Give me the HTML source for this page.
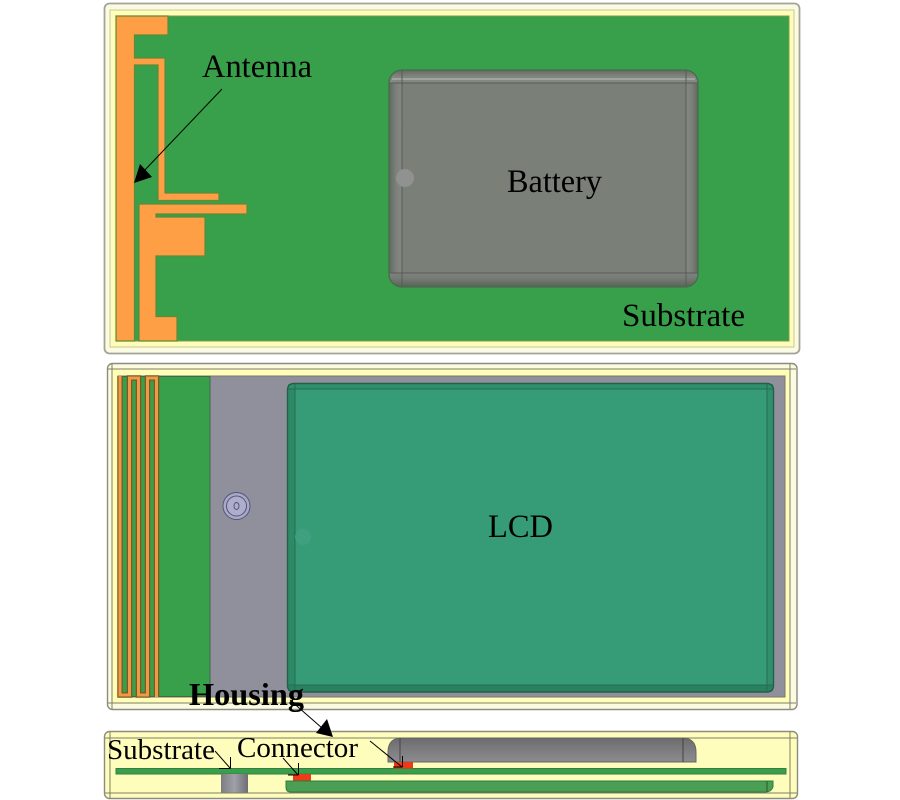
<!DOCTYPE html>
<html><head><meta charset="utf-8"><style>
html,body{margin:0;padding:0;background:#fff;width:900px;height:800px;overflow:hidden}
svg{display:block}
text{font-family:"Liberation Serif",serif;fill:#000}
</style></head><body>
<svg width="900" height="800" viewBox="0 0 900 800" xmlns="http://www.w3.org/2000/svg">
<defs>
<linearGradient id="pg" x1="0" y1="0" x2="1" y2="0"><stop offset="0" stop-color="#7c7c82"/><stop offset=".5" stop-color="#a0a0aa"/><stop offset="1" stop-color="#6e6e74"/></linearGradient>
<linearGradient id="bl" x1="0" y1="0" x2="1" y2="0"><stop offset="0" stop-color="#5d6a5d"/><stop offset=".5" stop-color="#7b7f79"/><stop offset="1" stop-color="#868985"/></linearGradient>
<linearGradient id="br" x1="1" y1="0" x2="0" y2="0"><stop offset="0" stop-color="#5d6a5d"/><stop offset=".5" stop-color="#7b7f79"/><stop offset="1" stop-color="#858884"/></linearGradient>
<linearGradient id="bt" x1="0" y1="0" x2="0" y2="1"><stop offset="0" stop-color="#5f6d5f"/><stop offset=".5" stop-color="#828580"/><stop offset="1" stop-color="#858884"/></linearGradient>
<linearGradient id="bb" x1="0" y1="1" x2="0" y2="0"><stop offset="0" stop-color="#566456"/><stop offset=".6" stop-color="#757a74"/><stop offset="1" stop-color="#7f837e"/></linearGradient>
<linearGradient id="bs" x1="0" y1="0" x2="0" y2="1"><stop offset="0" stop-color="#6c6c6e"/><stop offset=".5" stop-color="#7d7d80"/><stop offset="1" stop-color="#8c8c90"/></linearGradient>
<clipPath id="bc"><rect x="389" y="70" width="309" height="217" rx="13"/></clipPath>
</defs>

<!-- Panel 1 -->
<rect x="104.500" y="3.500" width="695" height="350" rx="5" fill="#fbfbe2" stroke="#a3a396" stroke-width="1.800"/>
<rect x="110" y="10" width="684" height="337" fill="#fffdb8" stroke="#c9c7a0" stroke-width="1"/>
<rect x="116" y="16" width="673" height="325" fill="#38a04a" stroke="#7f9a4a" stroke-width="1"/>
<g fill="#ff9f45" stroke="#5f8a38" stroke-width="1.200">
<path d="M116 16H168V35H134.500V58H165V193H219V200.500H158V65H134.500V341H116Z"/>
<path d="M139 204H247V214H156V217H205V256H156V316.500H177V341H139Z"/>
</g>
<rect x="389" y="70" width="309" height="217" rx="13" fill="#7a7f77"/>
<g clip-path="url(#bc)">
<rect x="389" y="70" width="13" height="217" fill="url(#bl)"/>
<rect x="686" y="70" width="12" height="217" fill="url(#br)"/>
<rect x="389" y="70" width="309" height="13" fill="url(#bt)"/>
<rect x="389" y="273" width="309" height="14" fill="url(#bb)"/>
</g>
<path d="M392 79H695" stroke="#a0a39e" stroke-width="2"/>
<path d="M389 83H698M389 273H698M402 70V287M686 70V287" stroke="#565c56" stroke-width="1" fill="none"/>
<rect x="389" y="70" width="309" height="217" rx="13" fill="none" stroke="#4a6a4c" stroke-width="1.300"/>
<circle cx="405" cy="178" r="9" fill="#8f9291"/>

<!-- Panel 2 -->
<rect x="107.500" y="363.500" width="689.500" height="346" rx="5" fill="#fbfbe2" stroke="#8c8c80" stroke-width="1.400"/>
<rect x="112" y="369" width="678" height="334" fill="#fffdb8"/>
<path d="M112 364V709M790 364V709M108 369H796M108 703H796" stroke="#7f7f66" stroke-width="1" fill="none"/>
<path d="M118 376H785V697H118Z" fill="#90909c" stroke="#77776c" stroke-width="1"/>
<rect x="118" y="376.500" width="92" height="320" fill="#38a04a" stroke="#3f6a44" stroke-width="1"/>
<path d="M120 376V695H129.500V378H138.500V695H147.500V378H156.500V697" fill="none" stroke="#7a5a22" stroke-width="5.500"/>
<path d="M120 376V695H129.500V378H138.500V695H147.500V378H156.500V697" fill="none" stroke="#f09a48" stroke-width="3"/>
<rect x="287.500" y="383.500" width="486" height="308.500" rx="6" fill="#369c78"/>
<rect x="288" y="384" width="7" height="307" fill="#2c8a66"/>
<rect x="767" y="384" width="6" height="307" fill="#328f6e"/>
<rect x="288" y="685" width="485" height="7" rx="3" fill="#2a8160"/>
<rect x="288" y="384" width="485" height="5" fill="#2f9070"/>
<path d="M288 389H773M288 685H773M295 384V691M767 384V691" stroke="#256c50" stroke-width="1" fill="none"/>
<rect x="287.500" y="383.500" width="486" height="308.500" rx="6" fill="none" stroke="#245f48" stroke-width="1.400"/>
<circle cx="303" cy="537" r="8" fill="#3fa080"/>
<circle cx="236.500" cy="506" r="13.500" fill="#a8a8c8" stroke="#55557a" stroke-width="1"/>
<circle cx="236.500" cy="506" r="10" fill="#aeaecc" stroke="#55557a" stroke-width="1"/>
<ellipse cx="236.500" cy="506" rx="2.500" ry="3.500" fill="none" stroke="#55557a" stroke-width="1"/>

<!-- Panel 3 -->
<rect x="104.500" y="731.500" width="693" height="67" rx="5" fill="#fffdbc" stroke="#8c8c80" stroke-width="1.400"/>
<path d="M110 732V798M790 732V798M105 738H797M105 793H797" stroke="#7f7f66" stroke-width="1" fill="none"/>
<path d="M388 762V752Q388 738 402 738H682Q696 738 696 752V762Z" fill="url(#bs)" stroke="#66665f" stroke-width="1"/>
<path d="M400 738V762M683 738V762" stroke="#444" stroke-width="1"/>
<rect x="116" y="768.500" width="670" height="5.500" fill="#38a04a" stroke="#3a7c40" stroke-width="1"/>
<rect x="221" y="774" width="27" height="18.500" fill="url(#pg)"/>
<path d="M286 781H773V787Q771 792 766 792H290Q286 792 286 787Z" fill="#4b9f55" stroke="#2f7a3c" stroke-width="1"/>
<path d="M767 781V792" stroke="#2a5a30" stroke-width="1"/>
<rect x="293" y="774" width="18" height="6.500" fill="#ee3a18"/>
<rect x="394" y="762" width="19" height="6.500" fill="#ee3a18"/>

<!-- Arrows -->
<path d="M222 89L143 172" stroke="#000" stroke-width="1" fill="none"/>
<path d="M134 183L140 164L152 177Z" fill="#000"/>
<path d="M290 700L322 728" stroke="#000" stroke-width="1" fill="none"/>
<path d="M333 737L327 719L316 733Z" fill="#000"/>
<path d="M215 751L230 768M230.500 757V768.500M230.500 768.500H219" stroke="#000" stroke-width="1" fill="none"/>
<path d="M283 758L298 775M298.500 763V775M298.500 775H288" stroke="#000" stroke-width="1" fill="none"/>
<path d="M370 741L402 767M402.500 756V767M402.500 767H393" stroke="#000" stroke-width="1" fill="none"/>

<!-- Labels -->
<text x="202" y="77" font-size="33" textLength="110" lengthAdjust="spacingAndGlyphs">Antenna</text>
<text x="507" y="192" font-size="33" textLength="95" lengthAdjust="spacingAndGlyphs">Battery</text>
<text x="622" y="326" font-size="33" textLength="123" lengthAdjust="spacingAndGlyphs">Substrate</text>
<text x="488" y="537" font-size="33" textLength="65" lengthAdjust="spacingAndGlyphs">LCD</text>
<text x="189" y="705" font-size="32" font-weight="bold" textLength="115" lengthAdjust="spacingAndGlyphs">Housing</text>
<text x="107" y="759" font-size="29" textLength="108" lengthAdjust="spacingAndGlyphs">Substrate</text>
<text x="237" y="757" font-size="29" textLength="121" lengthAdjust="spacingAndGlyphs">Connector</text>
</svg>
</body></html>
